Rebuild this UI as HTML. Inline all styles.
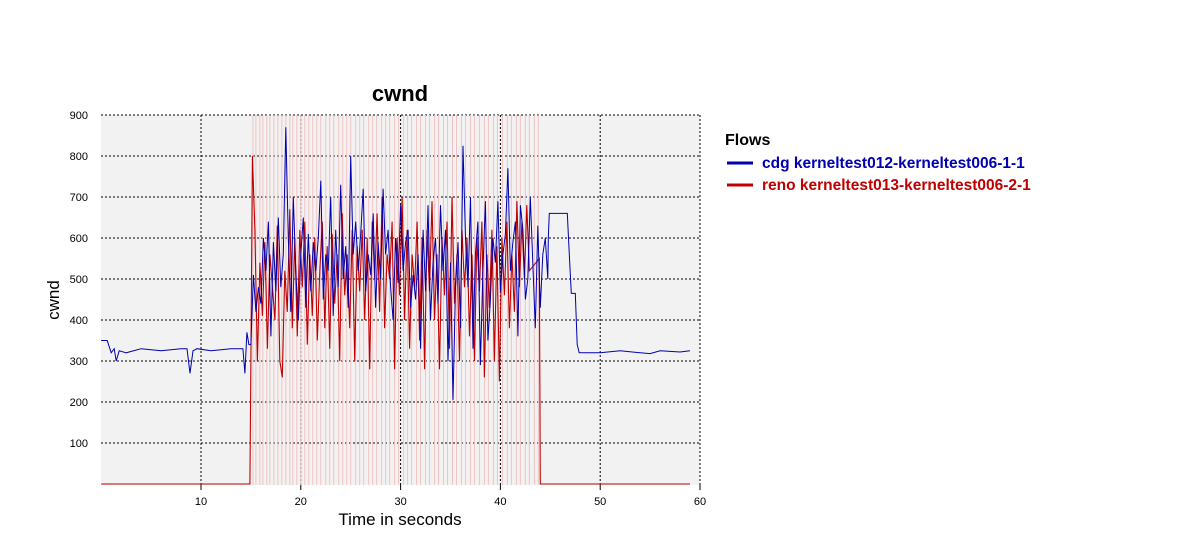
<!DOCTYPE html>
<html><head><meta charset="utf-8"><style>
body{margin:0;background:#fff;width:1200px;height:550px;overflow:hidden;font-family:"Liberation Sans",sans-serif}
</style></head><body>
<svg id="chart" width="1200" height="550" xmlns="http://www.w3.org/2000/svg" font-family="Liberation Sans, sans-serif">
<text x="400" y="101" text-anchor="middle" font-size="22" font-weight="bold">cwnd</text>
<rect x="101" y="115" width="599" height="370" fill="#f2f2f2"/>
<g id="grid"></g>
<g id="losses"></g>
<g id="series"></g>
<g id="axes"></g>
<text transform="translate(59,300) rotate(-90)" text-anchor="middle" font-size="17">cwnd</text>
<text x="400" y="525" text-anchor="middle" font-size="17">Time in seconds</text>
<g>
<text x="725" y="145" font-size="16" font-weight="bold">Flows</text>
<line x1="727" y1="163" x2="753" y2="163" stroke="#0000b0" stroke-width="3"/>
<text x="762" y="168" font-size="15.5" font-weight="bold" fill="#0000b0">cdg kerneltest012-kerneltest006-1-1</text>
<line x1="727" y1="185" x2="753" y2="185" stroke="#c00000" stroke-width="3"/>
<text x="762" y="190" font-size="15.5" font-weight="bold" fill="#c00000">reno kerneltest013-kerneltest006-2-1</text>
</g>
</svg>
<script>
const xTicks=[10,20,30,40,50,60];
const yTicks=[100,200,300,400,500,600,700,800,900];
const blueHeadT=[0,0.6,1,1.3,1.5,1.8,2.5,4,6,8,8.6,8.9,9.2,9.6,11,13,14.2,14.4,14.6,14.8,15];
const blueHeadV=[350,350,320,330,300,325,320,330,325,330,330,270,325,330,325,330,330,270,370,340,340];
const blueMidStart=15.25, midStep=0.25;
const blueMid=[510,420,480,440,600,520,640,360,590,470,650,480,560,870,600,420,700,520,400,560,650,430,610,470,590,520,600,740,450,560,520,700,410,620,480,730,500,580,430,800,560,640,520,610,720,470,560,510,660,430,590,500,720,560,620,480,400,600,490,680,520,590,620,430,510,450,560,330,620,470,680,400,540,600,440,680,520,620,300,540,205,480,590,380,825,600,480,700,330,560,640,290,520,690,350,450,600,540,690,470,560,610,770,520,590,640,360,680,620,450,500,700,540,380,630,430,560,600,500];
const blueTailT=[44.8,44.9,46.7,46.9,47.1,47.5,47.7,47.9,50,52,54,55,56,58,59];
const blueTailV=[600,660,660,560,465,465,340,320,320,325,320,318,325,322,325];
const redHeadT=[0,14.9,15.0,15.15];
const redHeadV=[0,0,300,800];
const redMidStart=15.4;
const redMid=[620,300,540,410,590,330,560,480,400,630,300,260,520,420,670,380,600,360,620,480,640,340,560,410,600,350,520,640,380,580,330,610,440,560,300,660,460,560,380,620,300,580,470,620,400,600,280,640,500,660,420,700,380,560,500,640,280,600,460,700,400,620,330,560,480,640,350,600,280,620,470,690,400,560,280,600,460,640,330,700,440,560,300,620,480,600,360,560,300,600,470,640,260,560,430,620,300,580,250,600,460,640,380,560,420,690,480,640,500,680,520];
const redTailT=[43.9,44.0,59];
const redTailV=[550,0,0];
const lossTimes=[15.2,15.5,15.9,16.2,16.6,16.9,17.3,17.7,18.1,18.5,18.9,19.2,19.6,20.0,20.4,20.8,21.2,21.6,22.0,22.5,22.9,23.3,23.8,24.2,24.6,25.0,25.5,25.9,26.3,26.8,27.2,27.6,28.1,28.5,28.9,29.4,29.8,30.3,30.7,31.1,31.6,32.0,32.5,32.9,33.4,33.8,34.3,34.7,35.2,35.6,36.1,36.5,37.0,37.4,37.9,38.4,38.8,39.3,39.7,40.2,40.7,41.1,41.6,42.0,42.5,42.9,43.4,43.8];

const X=t=>101.2+t*9.98, Y=v=>484-v*0.41;
const NS='http://www.w3.org/2000/svg';
function mk(tag,parent,attrs){const e=document.createElementNS(NS,tag);for(const k in attrs)e.setAttribute(k,attrs[k]);parent.appendChild(e);return e;}
const grid=document.getElementById('grid'),axes=document.getElementById('axes');
xTicks.forEach(t=>{
  const l=mk('line',grid,{x1:X(t),x2:X(t),y1:115,y2:485,stroke:'#000','stroke-width':1,'stroke-dasharray':'2,2'});
  
  
  const tx=mk('text',axes,{x:X(t),y:505,'text-anchor':'middle','font-size':11});
  tx.textContent=t;
  
  
  const tk=mk('line',axes,{x1:X(t),x2:X(t),y1:485,y2:490,stroke:'#000'});
  
  
});
yTicks.forEach(v=>{
  const l=mk('line',grid,{x1:101,x2:700,y1:Y(v),y2:Y(v),stroke:'#000','stroke-width':1,'stroke-dasharray':'2,2'});
  
  
  const tx=mk('text',axes,{x:88,y:Y(v)+4,'text-anchor':'end','font-size':11});
  tx.textContent=v;
  
  
});
const losses=document.getElementById('losses');
lossTimes.forEach(t=>{
  const l=mk('line',losses,{x1:X(t),x2:X(t),y1:115,y2:485,stroke:'#f0c4c4','stroke-width':1});
  
  
});
function pts(hT,hV,mStart,mid,tT,tV){
  const p=[];hT.forEach((t,i)=>p.push([t,hV[i]]));
  mid.forEach((v,i)=>p.push([mStart+i*midStep,v]));
  tT.forEach((t,i)=>p.push([t,tV[i]]));
  return p.map(q=>X(q[0]).toFixed(1)+','+Y(q[1]).toFixed(1)).join(' ');
}
const series=document.getElementById('series');
const red=mk('polyline',series,{points:pts(redHeadT,redHeadV,redMidStart,redMid,redTailT,redTailV),fill:'none',stroke:'#c00000','stroke-width':1.1});


const blue=mk('polyline',series,{points:pts(blueHeadT,blueHeadV,blueMidStart,blueMid,blueTailT,blueTailV),fill:'none',stroke:'#0000b0','stroke-width':1});


</script>
</body></html>
